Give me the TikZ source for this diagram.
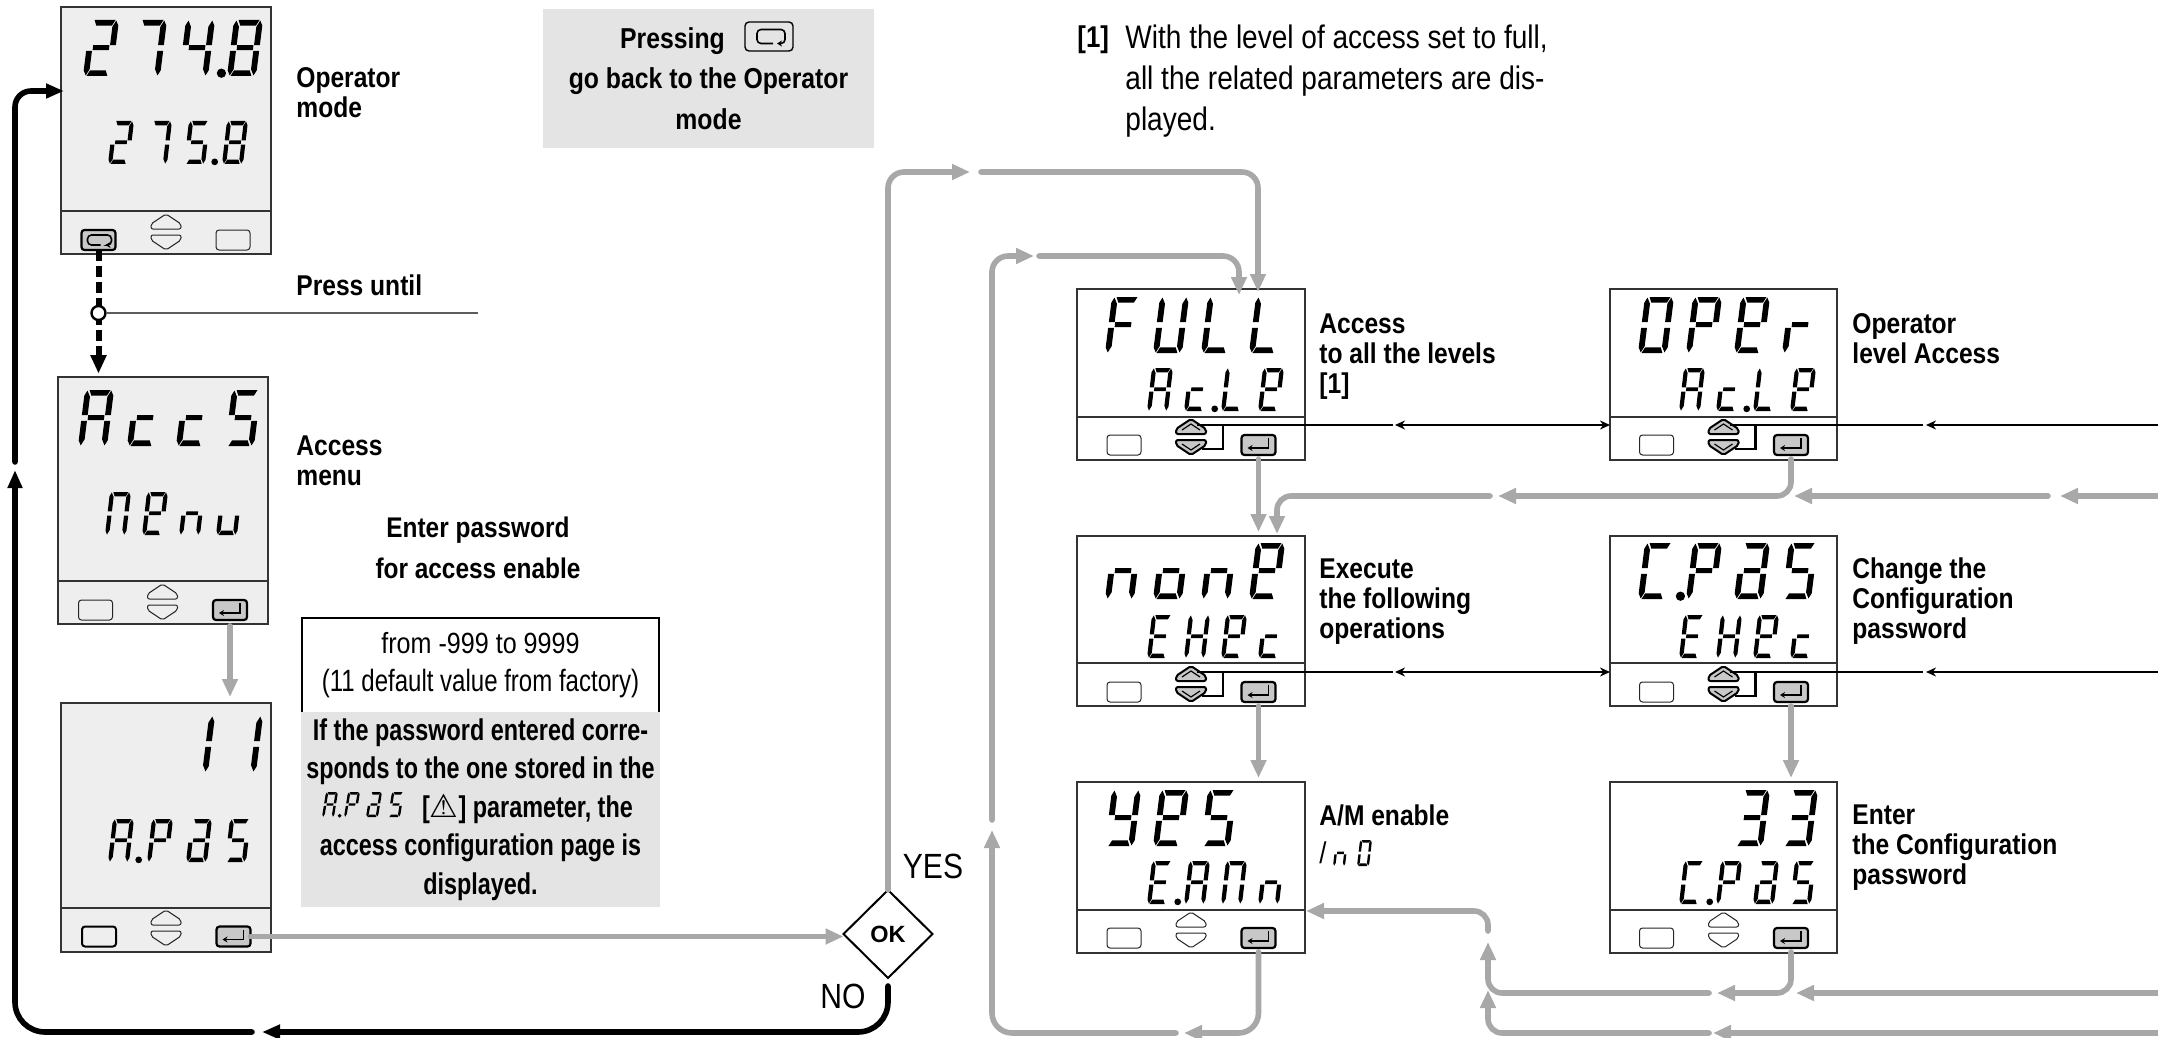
\documentclass[tikz,border=0pt]{standalone}
\usepackage{fontspec}
\setmainfont[FakeStretch=0.86]{Liberation Sans}
\newfontfamily\panelfont[FakeStretch=0.78]{Liberation Sans}
\newfontfamily\okfont{Liberation Sans}
\newfontfamily\signfont{DejaVu Sans}
\usetikzlibrary{arrows.meta, positioning, calc, shapes.geometric}
\definecolor{lcdgray}{HTML}{EEEEEE}
\definecolor{notegray}{HTML}{E4E4E4}
\definecolor{keygray}{HTML}{C8C8C8}
\definecolor{flowgray}{HTML}{A8A8A8}
\definecolor{edgegray}{HTML}{333333}

\tikzset{
  panelbox/.style={draw=edgegray, line width=0.6pt, anchor=north west, inner sep=0pt, outer sep=0pt},
  plainkey/.style={draw=black!85, line width=0.5pt, rounded corners=1.5pt, minimum width=17pt, minimum height=10pt, inner sep=0pt, outer sep=0pt},
  pressedkey/.style={plainkey, draw=black, line width=1.1pt, fill=keygray},
  keyicon/.style={line width=0.8pt, -{Stealth[length=2.5pt,width=3pt]}},
  flow/.style={draw=flowgray, line width=2.8pt, line cap=round, -{Triangle[length=9pt,width=7.5pt]}},
  ret/.style={draw=black, line width=2.8pt, line cap=round, -{Triangle[length=9pt,width=7pt]}},
  scroll/.style={draw=black, line width=1.2pt, -{Stealth[length=5pt,width=4.5pt]}},
  scrollboth/.style={draw=black, line width=1.2pt, {Stealth[length=5pt,width=4.5pt]}-{Stealth[length=5pt,width=4.5pt]}},
  scrollend/.style={draw=black, line width=1.2pt},
  tagtext/.style={anchor=west, inner sep=0pt, align=left, font=\fontsize{14.3}{15}\selectfont\bfseries},
  graynote/.style={fill=notegray, inner sep=0pt, outer sep=0pt, align=center},
}

% seven segment shapes, in a unit cell
\newcommand{\defseg}[2]{\expandafter\def\csname lcdseg-#1\endcsname{\fill #2 -- cycle;}}
\defseg{a}{(.16,1) -- (.88,1) -- (.78,.90) -- (.24,.90)}
\defseg{d}{(.12,0) -- (.84,0) -- (.76,.10) -- (.22,.10)}
\defseg{g}{(.22,.55) -- (.78,.55) -- (.78,.46) -- (.22,.46)}
\defseg{f}{(0,.55) -- (.20,.55) -- (.20,.88) -- (.09,.99) -- (0,.90)}
\defseg{b}{(1,.55) -- (.80,.55) -- (.80,.88) -- (.91,.99) -- (1,.90)}
\defseg{e}{(0,.45) -- (.20,.45) -- (.20,.12) -- (.09,.01) -- (0,.10)}
\defseg{c}{(1,.45) -- (.80,.45) -- (.80,.12) -- (.91,.01) -- (1,.10)}

% which segments each display character lights
\newcommand{\defchar}[2]{\expandafter\def\csname lcdchar-#1\endcsname{#2}}
\defchar{x}{}
\defchar{1}{b,c}
\defchar{2}{a,b,g,e,d}
\defchar{3}{a,b,g,c,d}
\defchar{4}{f,g,b,c}
\defchar{5}{a,f,g,c,d}
\defchar{7}{a,b,c}
\defchar{8}{a,b,c,d,e,f,g}
\defchar{A}{a,b,c,e,f,g}
\defchar{C}{a,d,e,f}
\defchar{E}{a,d,e,f,g}
\defchar{F}{a,e,f,g}
\defchar{H}{b,c,e,f,g}
\defchar{L}{d,e,f}
\defchar{M}{a,b,c,e,f}
\defchar{O}{a,b,c,d,e,f}
\defchar{P}{a,b,e,f,g}
\defchar{S}{a,c,d,f,g}
\defchar{U}{b,c,d,e,f}
\defchar{Y}{b,c,d,f,g}
\defchar{a}{a,b,c,d,e,g}
\defchar{c}{d,e,g}
\defchar{e}{a,b,d,e,f,g}
\defchar{n}{c,e,g}
\defchar{o}{c,d,e,g}
\defchar{r}{e,g}
\defchar{u}{c,d,e}

% x, y of the lower left corner, pitch, width, height, slant, characters, cell with the dot
\newcommand{\lcdrow}[8]{%
  \foreach \c [count=\i] in {#7} {%
    \pgfmathsetmacro\cellx{#1+(\i-1)*#3}
    \begin{scope}[shift={(\cellx,#2)}, x={(#4*0.5pt,0pt)}, y={(#6*0.5pt,#5*0.5pt)}]
      \edef\seglist{\csname lcdchar-\c\endcsname}
      \foreach \s in \seglist {\csname lcdseg-\s\endcsname}
      \ifnum\i=#8 \fill (1.45,.05) circle[radius=#4*0.08pt]; \fi
    \end{scope}
  }%
}
\newcommand{\lcdbig}[4]{\lcdrow{#1}{#2}{48}{29}{56}{7}{#3}{#4}}
\newcommand{\lcdsmall}[5][37]{\lcdrow{#2}{#3}{#1}{21}{43}{5}{#4}{#5}}

% panels and keys
\newcommand{\keyblank}[4][]{\node[plainkey,#1] (#2) at (#3,#4) {};}
\newcommand{\keyenter}[3]{%
  \node[pressedkey] (#1) at (#2,#3) {};
  \draw[keyicon] ([shift={(5pt,3.5pt)}]#1.center) |- ([shift={(-5.5pt,-1.5pt)}]#1.center);
}
\newcommand{\keyback}[3]{%
  \node[pressedkey] (#1) at (#2,#3) {};
  \draw[keyicon, rounded corners=2pt] ([shift={(1pt,-2.5pt)}]#1.center) -- ++(-6.5pt,0pt) -- ++(0pt,5pt) -- ++(12pt,0pt) -- ++(0pt,-5pt) -- ++(-3pt,0pt);
}
\newcommand{\updown}[3]{%
  \begin{scope}[shift={(#2,#3)}]
    \draw[black!85, line width=0.5pt, rounded corners=1pt, #1] (0,0) -- (15,10) -- (15,15) -- (-15,15) -- (-15,10) -- cycle;
    \draw[black!85, line width=0.5pt, rounded corners=1pt, #1] (0,36) -- (15,26) -- (15,21) -- (-15,21) -- (-15,26) -- cycle;
  \end{scope}
}
\newcommand{\updownpressed}[3]{%
  \updown{draw=black, fill=keygray, line width=1pt}{#2}{#3}
  \begin{scope}[shift={(#2,#3)}]
    \draw[line width=0.6pt] (-9,11) -- (0,5) -- (9,11);
    \draw[line width=0.6pt] (-9,25) -- (0,31) -- (9,25);
    \coordinate (#1-up) at (6,6);
    \coordinate (#1-dn) at (11,30);
    \coordinate (#1-br) at (32,6);
  \end{scope}
  \draw[scrollend] (#1-br) |- (#1-dn);
}

\begin{document}
\begin{tikzpicture}[x=0.5pt, y=-0.5pt]
\useasboundingbox (0,0) rectangle (2158,1038);

% Left column
\node[panelbox, fill=lcdgray, minimum width=105pt, minimum height=123.5pt] (oper) at (61,7) {};
\draw[edgegray, line width=0.6pt] (61,211) -- (271,211);
\lcdbig{83}{76}{2,7,4,8}{3}
\lcdsmall[38]{108}{164}{2,7,5,8}{3}
\keyback{oper-back}{98.5}{240}
\updown{}{166}{214}
\keyblank{oper-blank}{233}{240}

\node[panelbox, fill=lcdgray, minimum width=105pt, minimum height=123.5pt] (acc) at (58,377) {};
\draw[edgegray, line width=0.6pt] (58,581) -- (268,581);
\lcdrow{78}{446}{49}{29}{56}{7}{A,c,c,S}{0}
\lcdsmall{105}{535}{M,e,n,u}{0}
\keyblank{acc-blank}{95.5}{610}
\updown{}{162.5}{584}
\keyenter{acc-enter}{230}{610}

\node[panelbox, fill=lcdgray, minimum width=105pt, minimum height=124.5pt] (apas) at (61,703) {};
\draw[edgegray, line width=0.6pt] (61,908) -- (271,908);
\lcdbig{83}{772}{x,x,1,1}{0}
\lcdsmall[39]{108}{862}{A,P,a,S}{1}
\keyblank[line width=1pt, draw=black]{apas-blank}{99}{936.5}
\updown{}{166}{910}
\keyenter{apas-enter}{233.5}{936.5}

% Left column labels
\node[tagtext] (oper-tag) at (296,92.5) {Operator\\mode};
\node[tagtext] (acc-tag) at (296,461) {Access\\menu};
\node[tagtext] (press-tag) at (296,285) {Press until};
\node[font=\fontsize{14.2}{20.5}\selectfont\bfseries, align=center, inner sep=0pt] (pwd-tag) at (478,547.5) {Enter password\\for access enable};

% Password boxes
\node[draw=black, line width=0.8pt, inner sep=0pt, outer sep=0pt, minimum width=178.5pt, minimum height=47.5pt, align=center, font=\fontsize{14.6}{19}\selectfont] (range) at (480.5,665.5) {from -999 to 9999\\{\panelfont\fontsize{15.4}{19}\selectfont (11 default value from factory)}};
\node[graynote, minimum width=179.5pt, minimum height=97.5pt, font=\fontsize{15}{19.25}\panelfont\selectfont\bfseries] (pwd-note) at (480.5,809.5) {If the password entered corre-\\sponds to the one stored in the\\\hspace*{47pt}[{\signfont\fontsize{16}{12}\selectfont\bfseries\symbol{"26A0}}] parameter, the\\access configuration page is\\displayed.};
\lcdrow{322}{817}{22}{12}{25}{4}{A,P,a,S}{1}

% Note box at the top
\node[graynote, minimum width=165.5pt, minimum height=69.5pt, font=\fontsize{14.4}{20.2}\selectfont\bfseries] (back-note) at (708.5,78.5) {Pressing\hspace{36pt}\mbox{}\\go back to the Operator\\mode};
\node[draw=black, line width=0.7pt, rounded corners=2pt, minimum width=24pt, minimum height=14.5pt, inner sep=0pt] (back-icon) at (769,36.5) {};
\draw[keyicon, rounded corners=2pt] ([shift={(2pt,-3.5pt)}]back-icon.center) -- ++(-8pt,0pt) -- ++(0pt,7pt) -- ++(14pt,0pt) -- ++(0pt,-7pt) -- ++(-4pt,0pt);

% Footnote
\node[anchor=west, inner sep=0pt, font=\fontsize{15}{15}\selectfont\bfseries] (fn-mark) at (1077,40) {[1]};
\node[anchor=west, inner sep=0pt, align=left, font=\fontsize{16.3}{20.5}\selectfont] (fn-text) at (1125,81) {With the level of access set to full,\\all the related parameters are dis-\\played.};

% Middle column
\node[panelbox, minimum width=114pt, minimum height=85.5pt] (full) at (1077,289) {};
\draw[edgegray, line width=0.6pt] (1077,417) -- (1305,417);
\lcdbig{1105}{353}{F,U,L,L}{0}
\lcdsmall{1147}{411}{A,c,L,e}{2}
\keyblank{full-blank}{1124}{445}
\updownpressed{full}{1191}{419}
\keyenter{full-enter}{1258.5}{445}
\node[tagtext] (full-tag) at (1319,356.5) {Access\\to all the levels\\{[1]}};

\node[panelbox, minimum width=114pt, minimum height=85pt] (none) at (1077,536) {};
\draw[edgegray, line width=0.6pt] (1077,663) -- (1305,663);
\lcdbig{1105}{599}{n,o,n,e}{0}
\lcdsmall{1147}{658}{E,H,e,c}{0}
\keyblank{none-blank}{1124}{692}
\updownpressed{none}{1191}{666}
\keyenter{none-enter}{1258.5}{692}
\node[tagtext] (none-tag) at (1319,601.5) {Execute\\the following\\operations};

\node[panelbox, minimum width=114pt, minimum height=85.5pt] (yes) at (1077,782) {};
\draw[edgegray, line width=0.6pt] (1077,910) -- (1305,910);
\lcdbig{1105}{846}{Y,e,S,x}{0}
\lcdsmall{1147}{904}{E,A,M,n}{1}
\keyblank{yes-blank}{1124}{938}
\updown{}{1191}{912}
\keyenter{yes-enter}{1258.5}{938}
\node[tagtext] (yes-tag) at (1319,815) {A/M enable};
\node[anchor=west, inner sep=0pt, font=\fontsize{15}{15}\selectfont] (yes-alt) at (1319,853) {/};
\lcdrow{1333}{866}{24}{12}{26}{3}{n,O}{0}

% Right column
\node[panelbox, minimum width=113.5pt, minimum height=85.5pt] (oplev) at (1610,289) {};
\draw[edgegray, line width=0.6pt] (1610,417) -- (1837,417);
\lcdbig{1638}{353}{O,P,e,r}{0}
\lcdsmall{1679}{411}{A,c,L,e}{2}
\keyblank{oplev-blank}{1656.5}{445}
\updownpressed{oplev}{1723.5}{419}
\keyenter{oplev-enter}{1791}{445}
\node[tagtext] (oplev-tag) at (1852,338.5) {Operator\\level Access};

\node[panelbox, minimum width=113.5pt, minimum height=85pt] (cpas) at (1610,536) {};
\draw[edgegray, line width=0.6pt] (1610,663) -- (1837,663);
\lcdbig{1638}{599}{C,P,a,S}{1}
\lcdsmall{1679}{658}{E,H,e,c}{0}
\keyblank{cpas-blank}{1656.5}{692}
\updownpressed{cpas}{1723.5}{666}
\keyenter{cpas-enter}{1791}{692}
\node[tagtext] (cpas-tag) at (1852,601) {Change the\\Configuration\\password};

\node[panelbox, minimum width=113.5pt, minimum height=85.5pt] (cfg) at (1610,782) {};
\draw[edgegray, line width=0.6pt] (1610,910) -- (1837,910);
\lcdbig{1638}{846}{x,x,3,3}{0}
\lcdsmall{1679}{904}{C,P,a,S}{1}
\keyblank{cfg-blank}{1656.5}{938}
\updown{}{1723.5}{912}
\keyenter{cfg-enter}{1791}{938}
\node[tagtext] (cfg-tag) at (1852,847.5) {Enter\\the Configuration\\password};

% Decision
\node[diamond, draw=black, line width=1pt, minimum width=44.5pt, minimum height=44pt, inner sep=0pt, outer sep=0pt, font=\fontsize{11.75}{12}\okfont\selectfont\bfseries] (ok) at (888,934) {OK};
\node[font=\fontsize{17.5}{18}\selectfont, inner sep=0pt] (yes-word) at (933,866) {YES};
\node[font=\fontsize{17.5}{18}\selectfont, inner sep=0pt] (no-word) at (843,996) {NO};

% Free ends of the connectors
\coordinate (oper-in) at (64,91);
\coordinate (ret-a) at (262,1032);
\coordinate (ret-b) at (252,1032);
\coordinate (ret-c) at (15,470);
\coordinate (ret-d) at (15,462);
\coordinate (up-a) at (970,172);
\coordinate (up-b) at (981,172);
\coordinate (full-in) at (1258,292);
\coordinate (lo-a) at (1184,1033);
\coordinate (lo-b) at (1176,1033);
\coordinate (lo-c) at (992,830);
\coordinate (lo-d) at (992,820);
\coordinate (lo-e) at (1034,256);
\coordinate (lo-f) at (1039,256);
\coordinate (full-in2) at (1239,295);
\coordinate (r-a) at (1498,496);
\coordinate (r-b) at (1490,496);
\coordinate (none-in) at (1277,534);
\coordinate (r-c) at (2048,496);
\coordinate (r-d) at (1794,496);
\coordinate (r-e) at (2158,496);
\coordinate (r-f) at (2060,496);
\coordinate (s-a) at (1717,993);
\coordinate (s-b) at (1709,993);
\coordinate (s-c) at (1488,942);
\coordinate (s-d) at (1488,931);
\coordinate (yes-in) at (1306,911);
\coordinate (s-e) at (2158,993);
\coordinate (s-f) at (1796,993);
\coordinate (t-a) at (2158,1033);
\coordinate (t-b) at (1713,1033);
\coordinate (t-c) at (1709,1033);
\coordinate (t-d) at (1488,990);
\coordinate (tap-end) at (478,313);
\coordinate (sc1-a) at (1393,425);
\coordinate (sc1-b) at (1395,425);
\coordinate (sc1-c) at (1610,425);
\coordinate (sc1-d) at (1923,425);
\coordinate (sc1-e) at (1926,425);
\coordinate (sc1-f) at (2158,425);
\coordinate (sc2-a) at (1393,672);
\coordinate (sc2-b) at (1395,672);
\coordinate (sc2-c) at (1610,672);
\coordinate (sc2-d) at (1923,672);
\coordinate (sc2-e) at (1926,672);
\coordinate (sc2-f) at (2158,672);

% Press until
\draw[draw=black, line width=3pt, dash pattern=on 5.5pt off 2.5pt] (oper-back.south) -- ([yshift=6pt]oper-back.south |- acc.north);
\node[draw=none, fill=black, isosceles triangle, isosceles triangle apex angle=50, shape border rotate=-90, minimum height=9pt, minimum width=8pt, inner sep=0pt, outer sep=0pt, anchor=apex] (press-tip) at ([yshift=2pt]oper-back.south |- acc.north) {};
\node[circle, draw=black, fill=white, line width=1.2pt, minimum size=7pt, inner sep=0pt, outer sep=0pt] (tap) at (98.5,313) {};
\draw[draw=edgegray!80, line width=0.7pt] (tap) -- (tap-end);

% Black return line
\draw[ret, rounded corners=15pt, shorten <=4pt] (ok.south) |- (ret-a);
\draw[ret, rounded corners=15pt] (ret-b) -| (ret-c);
\draw[ret, rounded corners=8pt] (ret-d) |- (oper-in);

% Grey flow, left part
\draw[flow, shorten <=3pt, shorten >=3pt] (acc-enter.south) -- (acc-enter.south |- apas.north);
\draw[flow] (apas-enter.east) -- (apas-enter.east -| ok.west);
\draw[flow, rounded corners=8pt] (ok.north) |- (up-a);
\draw[flow, rounded corners=8pt] (up-b) -| (full-in);

% Grey flow, middle column
\draw[flow, shorten <=2pt, shorten >=2pt] (full-enter.south) -- (full-enter.south |- none.north);
\draw[flow, shorten <=2pt, shorten >=2pt] (none-enter.south) -- (none-enter.south |- yes.north);
\draw[flow, rounded corners=10pt, shorten <=2pt] (yes-enter.south) |- (lo-a);
\draw[flow, rounded corners=10pt] (lo-b) -| (lo-c);
\draw[flow, rounded corners=8pt] (lo-d) |- (lo-e);
\draw[flow, rounded corners=8pt] (lo-f) -| (full-in2);

% Grey flow, right column
\draw[flow, rounded corners=7pt, shorten <=2pt] (oplev-enter.south) |- (r-a);
\draw[flow, rounded corners=7pt] (r-b) -| (none-in);
\draw[flow] (r-c) -- (r-d);
\draw[flow] (r-e) -- (r-f);
\draw[flow, shorten <=2pt, shorten >=2pt] (cpas-enter.south) -- (cpas-enter.south |- cfg.north);
\draw[flow, rounded corners=7pt, shorten <=2pt] (cfg-enter.south) |- (s-a);
\draw[flow, rounded corners=7pt] (s-b) -| (s-c);
\draw[flow, rounded corners=7pt] (s-d) |- (yes-in);
\draw[flow] (s-e) -- (s-f);
\draw[flow] (t-a) -- (t-b);
\draw[flow, rounded corners=7pt] (t-c) -| (t-d);

% Scrolling lines
\draw[scrollend] (full-up) -- (sc1-a);
\draw[scrollboth] (sc1-b) -- (sc1-c);
\draw[scrollend] (oplev-up) -- (sc1-d);
\draw[scroll] (sc1-f) -- (sc1-e);
\draw[scrollend] (none-up) -- (sc2-a);
\draw[scrollboth] (sc2-b) -- (sc2-c);
\draw[scrollend] (cpas-up) -- (sc2-d);
\draw[scroll] (sc2-f) -- (sc2-e);

\end{tikzpicture}
\end{document}
